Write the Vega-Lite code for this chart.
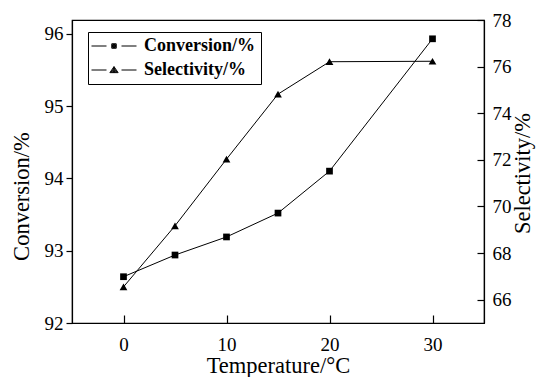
{
  "$schema": "https://vega.github.io/schema/vega-lite/v6.json",
  "width": 412,
  "height": 303,
  "autosize": {"type": "none"},
  "padding": {"left": 72, "top": 20, "right": 52, "bottom": 54},
  "background": "white",
  "config": {
    "font": "Liberation Serif",
    "view": {"stroke": "black", "strokeWidth": 1.2},
    "axis": {
      "labelFont": "Liberation Serif",
      "titleFont": "Liberation Serif",
      "labelFontSize": 19,
      "titleFontSize": 22.5,
      "titleFontWeight": "normal",
      "labelColor": "black",
      "titleColor": "black",
      "domainColor": "black",
      "tickColor": "black",
      "domainWidth": 1.2,
      "tickWidth": 1.2,
      "grid": false
    },
    "legend": {
      "labelFont": "Liberation Serif",
      "labelFontSize": 18,
      "labelFontWeight": "bold",
      "labelColor": "black"
    }
  },
  "data": {
    "values": [
      {"T": 0, "conv": 92.64, "sel": 66.55},
      {"T": 5, "conv": 92.94, "sel": 69.17},
      {"T": 10, "conv": 93.19, "sel": 72.03},
      {"T": 15, "conv": 93.52, "sel": 74.82},
      {"T": 20, "conv": 94.1, "sel": 76.21},
      {"T": 30, "conv": 95.93, "sel": 76.23}
    ]
  },
  "encoding": {
    "x": {
      "field": "T",
      "type": "quantitative",
      "scale": {"domain": [-5, 35], "nice": false, "zero": false},
      "axis": {
        "title": "Temperature/°C",
        "values": [0, 10, 20, 30],
        "tickSize": -8,
        "labelPadding": 20,
        "titlePadding": 0
      }
    }
  },
  "layer": [
    {
      "encoding": {
        "y": {
          "field": "conv",
          "type": "quantitative",
          "scale": {"domain": [92, 96.19], "nice": false, "zero": false},
          "axis": {
            "orient": "left",
            "title": "Conversion/%",
            "titleY": 176,
            "values": [92, 93, 94, 95, 96],
            "tickSize": 6,
            "labelPadding": 3,
            "titlePadding": 11
          }
        }
      },
      "layer": [
        {"mark": {"type": "line", "color": "black", "strokeWidth": 1}},
        {"mark": {"type": "point", "shape": "square", "filled": true, "color": "black", "size": 45, "opacity": 1}},
        {
          "mark": {"type": "point", "filled": false, "color": "black", "opacity": 0, "strokeWidth": 1},
          "encoding": {
            "shape": {
              "datum": "Conversion/%",
              "scale": {
                "domain": ["Conversion/%", "Selectivity/%"],
                "range": [
                  "M-1.4,0H0.6M2.6,0H4.6M1.3,-0.3H1.9V0.3H1.3ZM1.4,-0.2H1.8V0.2H1.4ZM1.5,-0.1H1.7V0.1H1.5ZM1.3,0H1.9M1.6,-0.3V0.3",
                  "M-1.4,0H0.6M2.6,0H4.6M1.6,-0.45L2.15,0.35H1.05ZM1.6,-0.27L1.963,0.259H1.237ZM1.6,-0.093L1.78,0.171H1.42ZM1.6,-0.45V0.35"
                ]
              },
              "legend": {
                "title": null,
                "orient": "none",
                "legendX": 16,
                "legendY": 12,
                "symbolSize": 225,
                "symbolOpacity": 1,
                "symbolFillColor": "black",
                "symbolStrokeColor": "black",
                "symbolStrokeWidth": 1,
                "strokeColor": "black",
                "fillColor": "white",
                "padding": 5,
                "rowPadding": 6,
                "labelOffset": 33,
                "encode": {
                  "symbols": {
                    "update": {
                      "stroke": {"value": "black"},
                      "strokeWidth": {"value": 1},
                      "fill": {"value": "black"},
                      "opacity": {"value": 1},
                      "fillOpacity": {"value": 1},
                      "strokeOpacity": {"value": 1}
                    }
                  }
                }
              }
            }
          }
        }
      ]
    },
    {
      "encoding": {
        "y": {
          "field": "sel",
          "type": "quantitative",
          "scale": {"domain": [65, 78], "nice": false, "zero": false},
          "axis": {
            "orient": "right",
            "title": "Selectivity/%",
            "titleAngle": -90,
            "titleY": 153,
            "values": [66, 68, 70, 72, 74, 76, 78],
            "tickSize": -7,
            "labelPadding": 15,
            "titlePadding": 23
          }
        }
      },
      "layer": [
        {"mark": {"type": "line", "color": "black", "strokeWidth": 1}},
        {"mark": {"type": "point", "shape": "triangle-up", "filled": true, "color": "black", "size": 60, "opacity": 1}},
        {
          "mark": {"type": "point", "filled": false, "color": "black", "opacity": 0, "strokeWidth": 1},
          "encoding": {
            "shape": {"datum": "Selectivity/%"}
          }
        }
      ]
    }
  ],
  "resolve": {"scale": {"y": "independent"}}
}
